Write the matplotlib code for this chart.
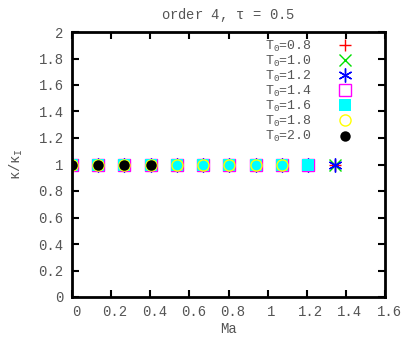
import numpy as np
import matplotlib
matplotlib.use('Agg')
import matplotlib.pyplot as plt
from matplotlib import transforms

plt.rcParams['font.family'] = ['Liberation Mono', 'DejaVu Sans Mono']
plt.rcParams['mathtext.fontset'] = 'custom'
plt.rcParams['mathtext.rm'] = 'Liberation Mono'
plt.rcParams['mathtext.it'] = 'Liberation Mono'

# Mach numbers sampled for each initial temperature
ma_08 = [0, 0.134, 0.268, 0.403, 0.537, 0.671, 0.805, 0.939, 1.074, 1.208, 1.342]
ma_10 = [0, 0.134, 0.268, 0.403, 0.537, 0.671, 0.805, 0.939, 1.074, 1.208, 1.342]
ma_12 = [0, 0.134, 0.268, 0.403, 0.537, 0.671, 0.805, 0.939, 1.074, 1.208, 1.342]
ma_14 = [0, 0.134, 0.268, 0.403, 0.537, 0.671, 0.805, 0.939, 1.074, 1.208]
ma_16 = [0, 0.134, 0.268, 0.403, 0.537, 0.671, 0.805, 0.939, 1.074, 1.208]
ma_18 = [0, 0.134, 0.268, 0.403, 0.537, 0.671, 0.805, 0.939, 1.074]
ma_20 = [0, 0.134, 0.268, 0.403]

# conductivity ratio kappa/kappa_I
k_08 = [1.0] * 11
k_10 = [1.0] * 11
k_12 = [1.0] * 11
k_14 = [1.0] * 10
k_16 = [1.0] * 10
k_18 = [1.0] * 9
k_20 = [1.0] * 4

labels = ['0.8', '1.0', '1.2', '1.4', '1.6', '1.8', '2.0']

gray = '#555555'

fig = plt.figure(figsize=(4.03, 3.40), dpi=100)
ax = fig.add_axes([72 / 403, 43 / 340, 313 / 403, 265 / 340])

ax.plot(ma_08, k_08, ls='none', marker='+', ms=9, mew=1.0, color='red', label='T$_0$=' + labels[0])
ax.plot(ma_10, k_10, ls='none', marker='x', ms=8, mew=1.0, color='#00e000', label='T$_0$=' + labels[1])
ax.plot(ma_12, k_12, ls='none', marker=(6, 2, 0), ms=10, mew=1.0, color='blue', label='T$_0$=' + labels[2])
ax.plot(ma_14, k_14, ls='none', marker='s', ms=8.5, mew=1.0, mfc='none', mec='magenta', label='T$_0$=' + labels[3])
ax.plot(ma_16, k_16, ls='none', marker='s', ms=8, mew=0, color='cyan', label='T$_0$=' + labels[4])
ax.plot(ma_18, k_18, ls='none', marker='o', ms=8, mew=1.0, mfc='none', mec='yellow', label='T$_0$=' + labels[5])
ax.plot(ma_20, k_20, ls='none', marker='o', ms=7.5, mew=0, color='black', label='T$_0$=' + labels[6])

ax.set_xlim(0, 1.6)
ax.set_ylim(0, 2)
ax.set_xticks(np.arange(0, 1.61, 0.2))
ax.set_yticks(np.arange(0, 2.01, 0.2))
ax.set_xticklabels(['0', '0.2', '0.4', '0.6', '0.8', '1', '1.2', '1.4', '1.6'])
ax.set_yticklabels(['0', '0.2', '0.4', '0.6', '0.8', '1', '1.2', '1.4', '1.6', '1.8', '2'])

for s in ax.spines.values():
    s.set_linewidth(2)
ax.tick_params(direction='in', length=5, width=1.5, top=True, right=True,
               labelsize=10, labelcolor=gray, pad=6)

shift = transforms.ScaledTranslation(4 / 100, 0, fig.dpi_scale_trans)
for lab in ax.get_xticklabels():
    lab.set_transform(lab.get_transform() + shift)

ax.set_xlabel('Ma', fontsize=10, color=gray, labelpad=2)
ax.set_ylabel(r'$\kappa/\kappa_I$', fontsize=10, color=gray, labelpad=10)
ax.set_title(r'order 4, $\tau$ = 0.5', fontsize=10, color=gray, pad=9)

leg = ax.legend(loc='upper right', frameon=False, markerfirst=False, fontsize=9.5,
                handlelength=1.0, handletextpad=2.0, labelspacing=0.0,
                borderaxespad=0.1, bbox_to_anchor=(0.915, 1.0))
for t in leg.get_texts():
    t.set_color(gray)

fig.savefig('out.png', dpi=100)
